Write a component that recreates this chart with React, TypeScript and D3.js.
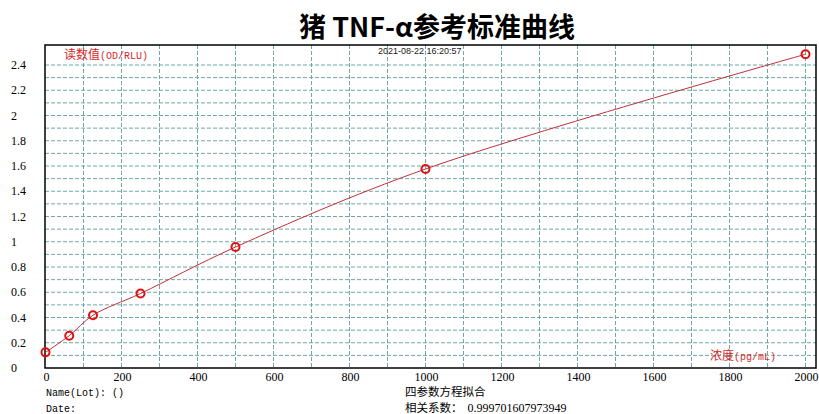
import React from "react";
import * as d3 from "d3";

const concentrations = [0, 62.5, 125, 250, 500, 1000, 2000];
const readings = [0.124, 0.256, 0.418, 0.59, 0.958, 1.576, 2.485];
const xTicks = [0, 200, 400, 600, 800, 1000, 1200, 1400, 1600, 1800, 2000];
const yTicks = [0, 0.2, 0.4, 0.6, 0.8, 1, 1.2, 1.4, 1.6, 1.8, 2, 2.2, 2.4];
const xGrid = d3.range(1, 21).map((i) => i * 100);
const yGrid = d3.range(1, 25).map((i) => i / 10);

const W = 819;
const H = 414;
const frame = { left: 45, top: 45, right: 816, bottom: 368 };

const x = d3.scaleLinear().domain([0, 2000]).range([45.5, 805.5]);
const y = d3.scaleLinear().domain([0, 2.4]).range([368, 65]);

const mono = "'Liberation Mono', 'DejaVu Sans Mono', monospace";
const serif = "'Liberation Serif', 'DejaVu Serif', serif";
const cjk = "'Noto Sans CJK SC', sans-serif";
const red = "#d42a2a";

export default function App() {
  const pts = concentrations.map((c, i) => [c, readings[i]] as [number, number]);
  const path = d3
    .line<[number, number]>()
    .x((d) => x(d[0]))
    .y((d) => y(d[1]))
    .curve(d3.curveCatmullRom.alpha(0.5))(pts) as string;

  return (
    <svg
      width={W}
      height={H}
      style={{ position: "absolute", left: 0, top: 0, background: "#fff" }}
    >
      <rect x={0} y={0} width={W} height={H} fill="#fff" />
      <text
        x={437}
        y={37}
        textAnchor="middle"
        fontFamily={cjk}
        fontWeight="bold"
        fontSize={27}
        fill="#000"
      >
        猪 TNF-α参考标准曲线
      </text>

      {/* grid */}
      {xGrid.map((v) => (
        <line
          key={"gx" + v}
          x1={x(v)}
          x2={x(v)}
          y1={frame.top}
          y2={frame.bottom}
          stroke="#6fa8a8"
          strokeWidth={1}
          strokeDasharray="4,2"
        />
      ))}
      {yGrid.map((v) => (
        <line
          key={"gy" + v}
          x1={frame.left}
          x2={frame.right}
          y1={y(v)}
          y2={y(v)}
          stroke="#6fa8a8"
          strokeWidth={1}
          strokeDasharray="4,2"
        />
      ))}

      {/* frame */}
      <rect
        x={frame.left}
        y={frame.top}
        width={frame.right - frame.left}
        height={frame.bottom - frame.top}
        fill="none"
        stroke="#000"
        strokeWidth={1.5}
      />

      {/* labels inside */}
      <text x={64} y={59} fill={red} fontSize={12}>
        <tspan fontFamily={cjk}>读数值</tspan>
        <tspan fontFamily={mono} fontSize={10}>(OD/RLU)</tspan>
      </text>
      <text x={710} y={360} fill={red} fontSize={12}>
        <tspan fontFamily={cjk}>浓度</tspan>
        <tspan fontFamily={mono} fontSize={10}>(pg/mL)</tspan>
      </text>
      <text
        x={378}
        y={54}
        fontFamily="'Liberation Sans', Arial, sans-serif"
        fontSize={9}
        fill="#222"
      >
        2021-08-22 16:20:57
      </text>

      {/* curve */}
      <path d={path} fill="none" stroke="#c0303c" strokeWidth={1} />
      {pts.map((d, i) => (
        <circle
          key={"p" + i}
          cx={x(d[0])}
          cy={y(d[1])}
          r={4}
          fill="none"
          stroke="#e01010"
          strokeWidth={2}
        />
      ))}

      {/* y ticks */}
      {yTicks.map((v) => (
        <text
          key={"ty" + v}
          x={11}
          y={y(v)}
          dy="0.35em"
          fontFamily={serif}
          fontSize={12}
          fill="#000"
        >
          {d3.format("~g")(v)}
        </text>
      ))}
      {/* x ticks */}
      {xTicks.map((v) => (
        <text
          key={"tx" + v}
          x={x(v) + 1}
          y={381}
          textAnchor="middle"
          fontFamily={serif}
          fontSize={12}
          fill="#000"
        >
          {v}
        </text>
      ))}

      {/* footer */}
      <text x={46} y={396} fontFamily={mono} fontSize={10} fill="#000">
        Name(Lot):  ()
      </text>
      <text x={46} y={411.5} fontFamily={mono} fontSize={10} fill="#000">
        Date:
      </text>
      <text x={405} y={396} fontFamily={cjk} fontSize={11.5} fill="#000">
        四参数方程拟合
      </text>
      <text x={405} y={411.5} fontSize={11.5} fill="#000">
        <tspan fontFamily={cjk}>相关系数：</tspan>
        <tspan fontFamily={serif} fontSize={12} dx={5}>
          0.999701607973949
        </tspan>
      </text>
    </svg>
  );
}
